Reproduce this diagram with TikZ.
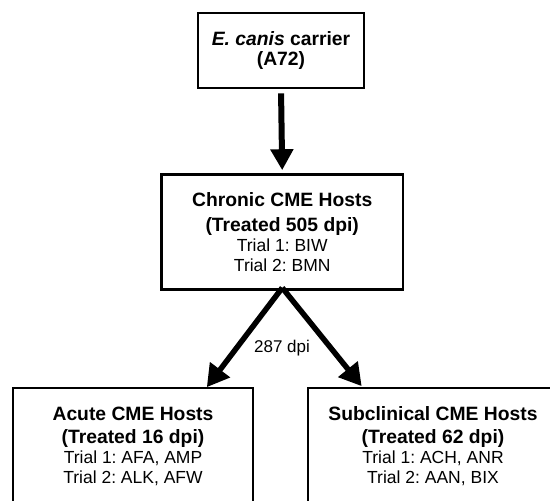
\documentclass[tikz,border=0pt]{standalone}
\usepackage{fontspec}
\setmainfont{Liberation Sans}
\frenchspacing
\usetikzlibrary{arrows.meta}
\tikzset{
  box/.style={draw=black, line width=2.6pt, fill=white, align=center, inner sep=0pt,
    font=\fontsize{19.3}{20}\selectfont\bfseries},
  bigarrow/.style={line width=6pt, -{Triangle[length=21pt,width=22pt]}},
  diagarrow/.style={line width=5.5pt, -{Triangle[length=22pt,width=24pt]}},
  lbl/.style={font=\fontsize{17}{20}\selectfont, inner sep=1pt}
}
\newcommand{\nrm}[1]{{\fontsize{17.5}{20}\selectfont\mdseries #1}}
\begin{document}
\begin{tikzpicture}[x=1pt, y=-1pt]
  \clip (0,0) rectangle (550,501);
  \fill[white] (0,0) rectangle (550,501);

  \node[box, minimum width=166, minimum height=75] (carrier) at (281,50.5)
    {\textit{E. canis} carrier\\(A72)};

  \node[box, minimum width=241.5, minimum height=115] (chronic) at (282.25,232)
    {Chronic CME Hosts\\[5pt](Treated 505 dpi)\\\nrm{Trial 1: BIW}\\\nrm{Trial 2: BMN}};

  \node[box, minimum width=240, minimum height=116] (acute) at (133,446)
    {Acute CME Hosts\\[3pt](Treated 16 dpi)\\\nrm{Trial 1: AFA, AMP}\\\nrm{Trial 2: ALK, AFW}};

  \node[box, minimum width=250, minimum height=116] (subclin) at (433,446)
    {Subclinical CME Hosts\\[3pt](Treated 62 dpi)\\\nrm{Trial 1: ACH, ANR}\\\nrm{Trial 2: AAN, BIX}};

  \draw[bigarrow, shorten <=4pt, shorten >=3pt] (carrier.south) -- (chronic.north);

  \coordinate (fork) at ([yshift=3]chronic.south);
  \coordinate (ltip) at ([xshift=-47.5,yshift=-0.5]acute.north east);
  \coordinate (rtip) at ([xshift=55,yshift=0.5]subclin.north west);
  \draw[diagarrow] (fork) -- (ltip);
  \draw[diagarrow] (fork) -- (rtip);

  \node[lbl] (dpi) at (282,348) {287 dpi};
\end{tikzpicture}
\end{document}
